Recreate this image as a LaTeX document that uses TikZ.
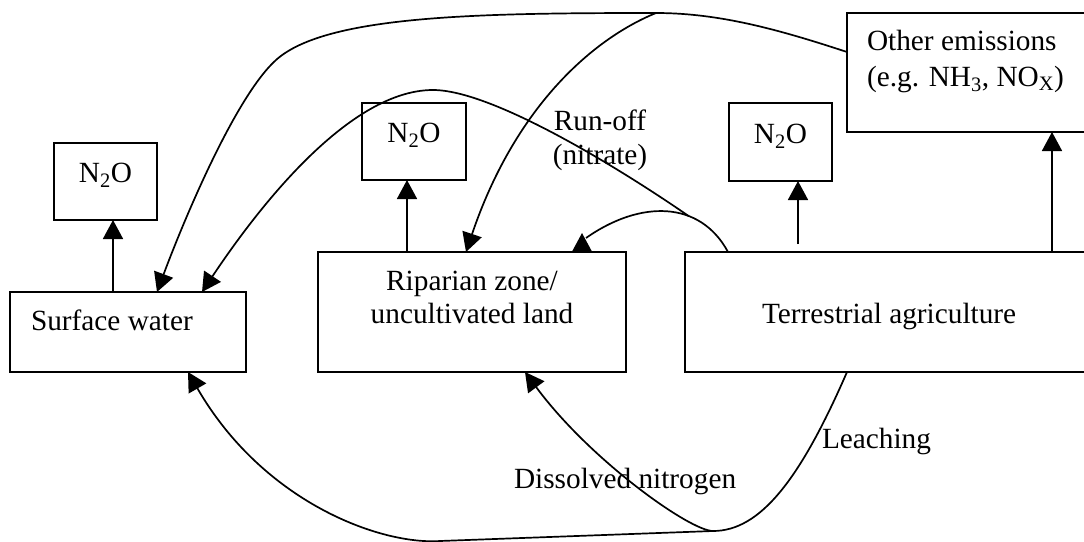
\documentclass[tikz,border=0pt]{standalone}
\usepackage{fontspec}
\setmainfont{Liberation Serif}
\usetikzlibrary{arrows.meta,calc}
\begin{document}
\begin{tikzpicture}[x=1pt,y=-1pt,
  line width=1.7pt,
  every node/.style={font=\fontsize{29.3}{33.5}\selectfont, inner sep=0pt, outer sep=0pt},
  box/.style={draw, rectangle, anchor=north west, line width=1.7pt},
  lbl/.style={anchor=base west},
  clbl/.style={anchor=base},
  arr/.style={-{Triangle[length=19pt,width=20pt]}}
]
\useasboundingbox (0,0) rectangle (1084,541);
\fill[white] (0,0) rectangle (1084,541);
\clip (0,0) rectangle (1084,541);

% boxes
\node[box, minimum width=236pt, minimum height=80pt] (sw) at (10,292) {};
\node[box, minimum width=103pt, minimum height=77pt] (n1) at (54,143) {};
\node[box, minimum width=308pt, minimum height=120pt] (rip) at (318,252) {};
\node[box, minimum width=104pt, minimum height=77pt] (n2) at (362,103) {};
\node[box, minimum width=420pt, minimum height=120pt] (ter) at (685,252) {};
\node[box, minimum width=103pt, minimum height=78pt] (n3) at (729,103) {};
\node[box, minimum width=260pt, minimum height=119pt] (oe) at (847,13) {};

% texts
\node[lbl] (swt) at (31,330) {Surface water};
\node[clbl] (n1t) at (105.5,182) {N\textsubscript{2}O};
\node[clbl] (n2t) at (414,142) {N\textsubscript{2}O};
\node[clbl] (n3t) at (780.5,143) {N\textsubscript{2}O};
\node[clbl] (ript1) at (472,290) {Riparian zone/};
\node[clbl] (ript2) at (472,323.5) {uncultivated land};
\node[lbl] (tert) at (762,323) {Terrestrial agriculture};
\node[lbl] (oet1) at (867,50) {Other emissions};
\node[lbl] (oet2) at (867,86) {(e.g. NH\textsubscript{3}, NO\textsubscript{X})};
\node[clbl] (ro1) at (600,130) {Run-off};
\node[clbl] (ro2) at (600,164) {(nitrate)};
\node[lbl] (lea) at (822,448) {Leaching};
\node[lbl] (dis) at (514,488) {Dissolved nitrogen};

% vertical emission arrows
\coordinate (p1) at ([xshift=103pt]sw.north west);
\coordinate (p2) at ([xshift=89pt]rip.north west);
\coordinate (p3) at ([xshift=113pt,yshift=8pt]ter.north west);
\coordinate (p4) at ([xshift=367pt]ter.north west);
\draw[arr] (p1) -- (p1 |- n1.south);
\draw[arr] (p2) -- (p2 |- n2.south);
\draw[arr] (p3) -- (p3 |- n3.south);
\draw[arr] (p4) -- (p4 |- oe.south);

% deposition from other emissions
\coordinate (A0) at ([yshift=-39pt]oe.north west);
\coordinate (J) at (656,13);
\coordinate (A1) at ([xshift=147pt]sw.north west);
\coordinate (B1) at ([xshift=148pt]rip.north west);
\draw[arr] (A0) .. controls (780,30) and (720,13) .. (J)
  .. controls (480,13) and (326,15) .. (276,60)
  .. controls (236,96) and (185,217) .. (A1);
\draw[arr] (J) .. controls (590,40) and (514,110) .. (B1);

% run-off
\coordinate (T0) at ([xshift=43pt]ter.north west);
\coordinate (R0) at ([xshift=264pt]rip.north west);
\coordinate (C1) at ([xshift=192pt]sw.north west);
\draw (T0) .. controls (700,200) and (640,200) .. (586,238) coordinate[pos=0.35] (K);
\draw[arr] (R0) -- ++(0,-19);
\draw[arr] (K) .. controls (622,170) and (493,90) .. (433,90)
  .. controls (343,90) and (246,226) .. (C1);

% leaching / dissolved nitrogen
\coordinate (D0) at ([xshift=162pt]ter.south west);
\coordinate (L) at (713,531);
\coordinate (D1) at ([xshift=207pt]rip.south west);
\coordinate (E1) at ([xshift=178pt]sw.south west);
\draw[arr] (D0) .. controls (800,480) and (760,531) .. (L)
  .. controls (690,531) and (590,460) .. (D1);
\draw[arr] (L) -- (440,541) .. controls (380,545) and (263,502) .. (E1);
\end{tikzpicture}
\end{document}
